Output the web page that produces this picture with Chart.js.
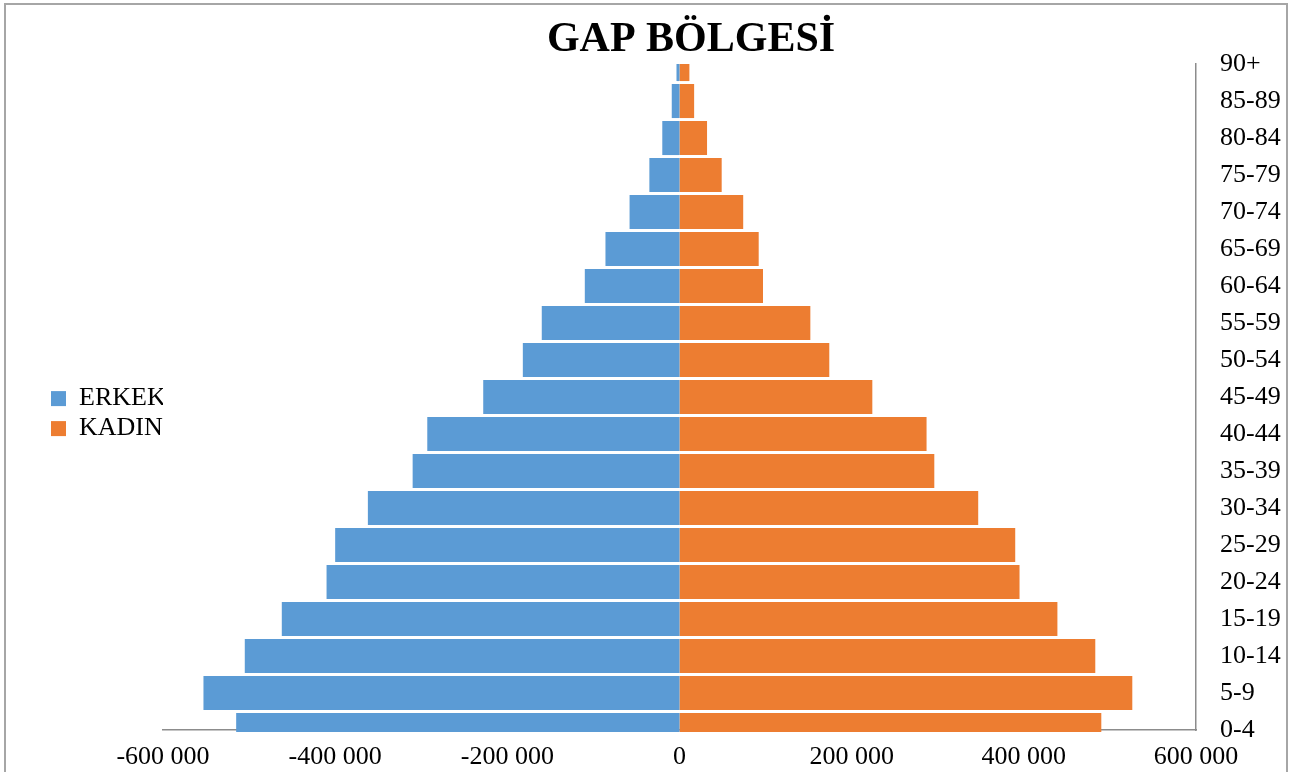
<!DOCTYPE html>
<html>
<head>
<meta charset="utf-8">
<title>GAP Bölgesi nüfus piramidi</title>
<script src="https://cdn.jsdelivr.net/npm/chart.js@4/dist/chart.umd.min.js"></script>
<style>
    html, body { margin: 0; padding: 0; background: #fff; overflow: hidden; }
    #wrap { position: relative; width: 1304px; height: 772px; overflow: hidden; }
    #frame {
        position: absolute; left: 4px; top: 3px; width: 1280px; height: 820px;
        border: 2px solid #a6a6a6; pointer-events: none;
    }
    canvas { position: absolute; left: 0; top: 0; }
</style>
</head>
<body>
<div id="wrap">
    <canvas id="pyramid" width="1335" height="800"></canvas>
    <div id="frame"></div>
</div>
<script>
// Age groups, bottom to top
const ageGroups = ['0-4', '5-9', '10-14', '15-19', '20-24', '25-29', '30-34', '35-39', '40-44',
    '45-49', '50-54', '55-59', '60-64', '65-69', '70-74', '75-79', '80-84', '85-89', '90+'];

// ERKEK (men), drawn to the left as negative values
const erkek = [-515000, -553000, -505000, -462000, -410000, -400000, -362000, -310000, -293000,
    -228000, -182000, -160000, -110000, -86000, -58000, -35000, -20000, -9000, -3500];

// KADIN (women), drawn to the right
const kadin = [490000, 526000, 483000, 439000, 395000, 390000, 347000, 296000, 287000,
    224000, 174000, 152000, 97000, 92000, 74000, 49000, 32000, 17000, 11500];

const xMin = -600000;
const xMax = 600000;
const xStep = 200000;

const serif = '"Liberation Serif", "Times New Roman", serif';

// 200000 -> "200 000"
function formatThousands(v) {
    return String(v).replace(/\B(?=(\d{3})+(?!\d))/g, ' ');
}

const ctx = document.getElementById('pyramid').getContext('2d');

new Chart(ctx, {
    type: 'bar',
    data: {
        labels: ageGroups,
        datasets: [
            {
                label: 'ERKEK',
                data: erkek,
                backgroundColor: '#5B9BD5',
                borderWidth: 0,
                barPercentage: 0.92,
                categoryPercentage: 1,
                clip: {left: false, right: false, top: 0, bottom: 2}
            },
            {
                label: 'KADIN',
                data: kadin,
                backgroundColor: '#ED7D31',
                borderWidth: 0,
                barPercentage: 0.92,
                categoryPercentage: 1,
                clip: {left: false, right: false, top: 0, bottom: 2}
            }
        ]
    },
    options: {
        indexAxis: 'y',
        responsive: false,
        animation: false,
        layout: {
            padding: {left: 47, right: 0, top: 0, bottom: 0}
        },
        scales: {
            x: {
                stacked: true,
                min: xMin,
                max: xMax,
                grid: {display: false, drawTicks: false},
                border: {display: true, color: '#8c8c8c', width: 1.5},
                ticks: {
                    stepSize: xStep,
                    padding: 12,
                    color: '#000',
                    font: {family: serif, size: 26},
                    maxRotation: 0,
                    callback: (v) => formatThousands(v)
                },
                afterFit: (scale) => { scale.height = 70; }
            },
            y: {
                stacked: true,
                position: 'right',
                reverse: true,
                offset: false,
                grid: {display: false, drawTicks: false},
                border: {display: true, color: '#8c8c8c', width: 1.5},
                ticks: {
                    padding: 24,
                    color: '#000',
                    autoSkip: false,
                    font: {family: serif, size: 26}
                },
                afterFit: (scale) => { scale.width = 139; }
            }
        },
        plugins: {
            title: {
                display: true,
                text: 'GAP BÖLGESİ',
                color: '#000',
                font: {family: serif, size: 42, weight: 'bold', lineHeight: 1.12},
                padding: {top: 17, bottom: 0}
            },
            legend: {
                position: 'left',
                align: 'center',
                maxWidth: 116,
                title: {display: true, text: '', font: {size: 1}, padding: {top: 26, bottom: 0}},
                labels: {
                    color: '#000',
                    boxWidth: 15,
                    boxHeight: 15,
                    padding: 4,
                    font: {family: serif, size: 26}
                }
            },
            tooltip: {enabled: false}
        }
    }
});
</script>
</body>
</html>
